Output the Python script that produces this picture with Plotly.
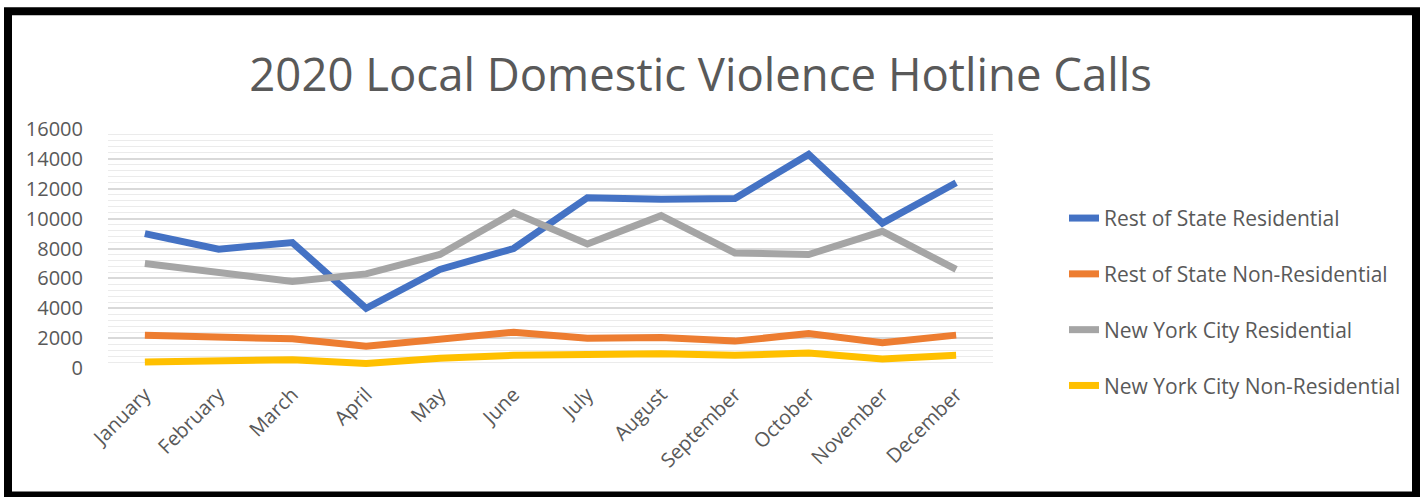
import plotly.graph_objects as go

months = ["January", "February", "March", "April", "May", "June", "July",
          "August", "September", "October", "November", "December"]

rest_res = [9000, 7950, 8400, 4000, 6600, 8000, 11400, 11300, 11350, 14300, 9700, 12400]
rest_nonres = [2200, 2050, 1950, 1450, 1900, 2400, 2000, 2050, 1800, 2300, 1700, 2200]
nyc_res = [7000, 6400, 5800, 6300, 7600, 10400, 8300, 10200, 7700, 7600, 9150, 6600]
nyc_nonres = [400, 500, 550, 300, 650, 850, 900, 950, 850, 1000, 600, 850]

series = [
    ("Rest of State Residential", rest_res, "#4472C4"),
    ("Rest of State Non-Residential", rest_nonres, "#ED7D31"),
    ("New York City Residential", nyc_res, "#A5A5A5"),
    ("New York City Non-Residential", nyc_nonres, "#FFC000"),
]

W, H = 1424, 497
L, R, T, B = 108, 993, 129, 368.3

fig = go.Figure()
for i, (name, vals, col) in enumerate(series):
    fig.add_trace(go.Scatter(
        x=months, y=vals, name=name, mode="lines",
        line=dict(color=col, width=7, shape="linear"),
        legendgroup=f"g{i}",
    ))

def px_x(p):
    return (p - L) / (R - L)

def px_y(p):
    return (B - p) / (B - T)

fig.add_shape(type="rect", xref="paper", yref="paper",
              x0=px_x(8), x1=px_x(1416), y0=px_y(496), y1=px_y(11),
              line=dict(color="black", width=8), fillcolor="rgba(0,0,0,0)",
              layer="above")

fig.update_layout(
    width=W, height=H,
    margin=dict(l=L, r=W - R, t=T, b=H - B, pad=0),
    paper_bgcolor="white", plot_bgcolor="white",
    font=dict(family="Open Sans", color="#595959"),
    title=dict(text="2020 Local Domestic Violence Hotline Calls",
               x=0.492, xref="container", xanchor="center",
               y=1 - 75 / H, yref="container", yanchor="middle",
               font=dict(family="Open Sans", size=45.5, color="#595959")),
    showlegend=True,
    legend=dict(x=px_x(1064), y=px_y(198), xanchor="left", yanchor="top",
                font=dict(size=21, color="#595959"),
                tracegroupgap=25.5, bgcolor="rgba(0,0,0,0)",
                itemwidth=30),
    xaxis=dict(type="category", range=[-0.5, 11.5], showgrid=False,
               showline=False, zeroline=False, tickangle=-45,
               ticks="", ticklabelstandoff=10,
               tickfont=dict(size=20, color="#595959")),
    yaxis=dict(range=[0, 16000], dtick=2000, showgrid=True, tickformat="d",
               gridcolor="#d9d9d9", gridwidth=1.5, zeroline=False,
               showline=False, ticks="", ticklabelstandoff=24,
               tickfont=dict(size=20, color="#595959"),
               minor=dict(dtick=400, showgrid=True, gridcolor="#ebebeb",
                          gridwidth=1)),
)

fig.write_html("out.html", config={"displayModeBar": False},
               post_script="document.body.style.margin='0';document.body.style.overflow='hidden';")
